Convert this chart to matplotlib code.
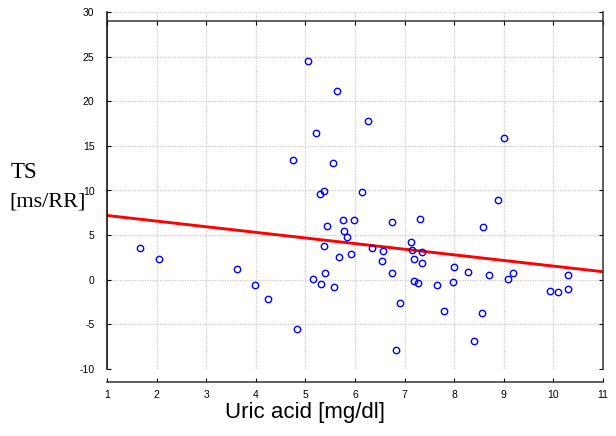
import matplotlib
matplotlib.use("Agg")
import matplotlib.pyplot as plt
import numpy as np

plt.rcParams["axes.unicode_minus"] = False

# uric acid [mg/dl] vs TS [ms/RR]
uric_acid = [1.66, 2.05, 3.63, 3.98, 4.24, 4.76, 4.84, 5.05, 5.16, 5.21,
             5.29, 5.31, 5.37, 5.37, 5.40, 5.43, 5.55, 5.58, 5.64, 5.68,
             5.75, 5.78, 5.83, 5.91, 5.97, 6.15, 6.26, 6.35, 6.55, 6.57,
             6.75, 6.75, 6.82, 6.91, 7.12, 7.15, 7.18, 7.18, 7.27, 7.32,
             7.36, 7.36, 7.65, 7.79, 7.97, 7.99, 8.27, 8.39, 8.57, 8.59,
             8.71, 8.88, 9.01, 9.08, 9.19, 9.94, 10.10, 10.29, 10.29]
ts = [3.6, 2.35, 1.2, -0.6, -2.15, 13.4, -5.5, 24.55, 0.05, 16.4,
      9.65, -0.5, 9.95, 3.75, 0.78, 6.07, 13.1, -0.83, 21.2, 2.53,
      6.7, 5.5, 4.77, 2.93, 6.65, 9.8, 17.8, 3.6, 2.12, 3.27,
      6.45, 0.81, -7.82, -2.55, 4.24, 3.35, 2.3, -0.09, -0.38, 6.8,
      3.12, 1.93, -0.57, -3.45, -0.27, 1.38, 0.83, -6.84, -3.67, 5.89,
      0.51, 8.98, 15.9, 0.07, 0.78, -1.28, -1.39, 0.51, -1.05]

# regression line end points
fit_x = [1, 11]
fit_y = [7.2, 0.9]

x_ticks = list(range(1, 12))
y_ticks = list(range(-10, 31, 5))

fig = plt.figure(figsize=(6.16, 4.36), dpi=100)
ax = fig.add_axes([107/616, 67/436, 496/616, 357/436])

ax.set_xlim(1, 11)
ax.set_ylim(-10, 30)
ax.set_xticks(x_ticks)
ax.set_yticks(y_ticks)

ax.grid(True, color="#cccccc", linestyle=(0, (1, 1)), linewidth=0.9)
ax.set_axisbelow(True)

ax.plot(uric_acid, ts, linestyle="none", marker="o", markersize=4.6,
        markerfacecolor="none", markeredgecolor="#0000ff", markeredgewidth=1.0,
        zorder=3)
ax.plot(fit_x, fit_y, color="#ff0000", linewidth=2.1, zorder=2)

# Statistica-ish frame
ax.spines["bottom"].set_position(("outward", 9))
ax.spines["top"].set_position(("data", 29))
for s in ax.spines.values():
    s.set_linewidth(1.1)
    s.set_color("#333333")
ax.spines["left"].set_color("black")

ax.tick_params(axis="x", which="both", direction="in", length=3, width=0.8,
               labelsize=7.5, pad=6, top=True, labeltop=False)
ax.tick_params(axis="y", which="both", direction="in", length=3, width=0.8,
               labelsize=7.5, pad=9, right=True)
for lbl in ax.get_xticklabels() + ax.get_yticklabels():
    lbl.set_family("Liberation Sans")

fig.text(305/616, 18/436, "Uric acid [mg/dl]", ha="center", va="baseline",
         fontsize=16, family="Liberation Sans")
fig.text(11/616, 258/436, "TS", ha="left", va="baseline",
         fontsize=16.5, family="Liberation Serif")
fig.text(9/616, 230/436, "[ms/RR]", ha="left", va="baseline",
         fontsize=16, family="Liberation Serif")

fig.savefig("out.png", dpi=100)
